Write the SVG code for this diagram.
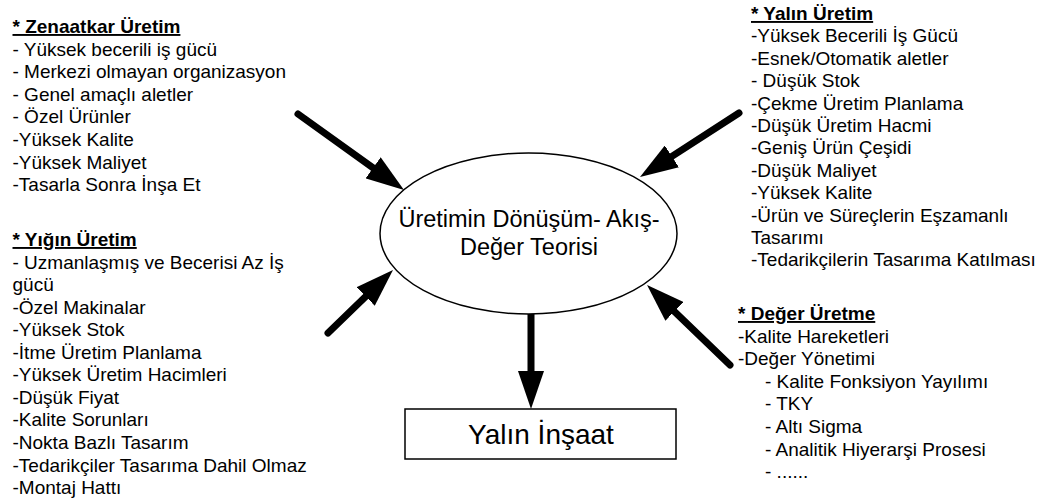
<svg xmlns="http://www.w3.org/2000/svg" width="1047" height="504" viewBox="0 0 1047 504">
  <style>
    text { font-family: "Liberation Sans", Arial, sans-serif; fill: #000; }
    .list { font-size: 19px; }
    .head { font-weight: bold; text-decoration: underline; }
    .shape { fill: #fff; stroke: #000; stroke-width: 1.5; }
    .arrow { stroke: #000; stroke-width: 7; stroke-linecap: round; fill: none; marker-end: url(#head); }
  </style>
  <defs>
    <marker id="head" viewBox="0 -13 38 26" refX="0" refY="0" markerWidth="38" markerHeight="26" markerUnits="userSpaceOnUse" orient="auto">
      <path d="M0,-13 L38,0 L0,13 Z" fill="#000"/>
    </marker>
  </defs>

  <rect width="1047" height="504" fill="#fff"/>

  <!-- connectors: each line stops at the base of its arrowhead -->
  <g id="connectors">
    <line class="arrow" x1="298" y1="114" x2="373.1" y2="167.8"/>
    <line class="arrow" x1="739" y1="113" x2="671.9" y2="156.4"/>
    <line class="arrow" x1="328" y1="333" x2="365.7" y2="296.5"/>
    <line class="arrow" x1="730" y1="365" x2="674.4" y2="311.4"/>
    <line class="arrow" x1="531" y1="314" x2="531" y2="371"/>
  </g>

  <g id="theory">
    <ellipse class="shape" cx="528.5" cy="233.5" rx="148.5" ry="80.5"/>
    <text x="529" y="227" font-size="23.5" text-anchor="middle">Üretimin Dönüşüm- Akış-</text>
    <text x="529" y="255" font-size="23.5" text-anchor="middle">Değer Teorisi</text>
  </g>

  <g id="lean-construction">
    <rect class="shape" x="405" y="409" width="271" height="50"/>
    <text x="541" y="444" font-size="28" text-anchor="middle">Yalın İnşaat</text>
  </g>

  <g id="craft-production">
    <text class="list" x="12.5" y="33">
      <tspan class="head">* Zenaatkar Üretim</tspan>
      <tspan x="12.5" dy="22.6">- Yüksek becerili iş gücü</tspan>
      <tspan x="12.5" dy="22.6">- Merkezi olmayan organizasyon</tspan>
      <tspan x="12.5" dy="22.6">- Genel amaçlı aletler</tspan>
      <tspan x="12.5" dy="22.6">- Özel Ürünler</tspan>
      <tspan x="12.5" dy="22.6">-Yüksek Kalite</tspan>
      <tspan x="12.5" dy="22.6">-Yüksek Maliyet</tspan>
      <tspan x="12.5" dy="22.6">-Tasarla Sonra İnşa Et</tspan>
    </text>
  </g>

  <g id="mass-production">
    <text class="list" x="12.5" y="246">
      <tspan class="head">* Yığın Üretim</tspan>
      <tspan x="12.5" dy="22.55">- Uzmanlaşmış ve Becerisi Az İş</tspan>
      <tspan x="12.5" dy="22.55">gücü</tspan>
      <tspan x="12.5" dy="22.55">-Özel Makinalar</tspan>
      <tspan x="12.5" dy="22.55">-Yüksek Stok</tspan>
      <tspan x="12.5" dy="22.55">-İtme Üretim Planlama</tspan>
      <tspan x="12.5" dy="22.55">-Yüksek Üretim Hacimleri</tspan>
      <tspan x="12.5" dy="22.55">-Düşük Fiyat</tspan>
      <tspan x="12.5" dy="22.55">-Kalite Sorunları</tspan>
      <tspan x="12.5" dy="22.55">-Nokta Bazlı Tasarım</tspan>
      <tspan x="12.5" dy="22.55">-Tedarikçiler Tasarıma Dahil Olmaz</tspan>
      <tspan x="12.5" dy="22.55">-Montaj Hattı</tspan>
    </text>
  </g>

  <g id="lean-production">
    <text class="list" x="751" y="20">
      <tspan class="head">* Yalın Üretim</tspan>
      <tspan x="751" dy="22.4">-Yüksek Becerili İş Gücü</tspan>
      <tspan x="751" dy="22.4">-Esnek/Otomatik aletler</tspan>
      <tspan x="751" dy="22.4">- Düşük Stok</tspan>
      <tspan x="751" dy="22.4">-Çekme Üretim Planlama</tspan>
      <tspan x="751" dy="22.4">-Düşük Üretim Hacmi</tspan>
      <tspan x="751" dy="22.4">-Geniş Ürün Çeşidi</tspan>
      <tspan x="751" dy="22.4">-Düşük Maliyet</tspan>
      <tspan x="751" dy="22.4">-Yüksek Kalite</tspan>
      <tspan x="751" dy="22.4">-Ürün ve Süreçlerin Eşzamanlı</tspan>
      <tspan x="751" dy="22.4">Tasarımı</tspan>
      <tspan x="751" dy="22.4">-Tedarikçilerin Tasarıma Katılması</tspan>
    </text>
  </g>

  <g id="value-generation">
    <text class="list" x="738" y="320">
      <tspan class="head">* Değer Üretme</tspan>
      <tspan x="738" dy="22.6">-Kalite Hareketleri</tspan>
      <tspan x="738" dy="22.6">-Değer Yönetimi</tspan>
      <tspan x="765" dy="22.6">- Kalite Fonksiyon Yayılımı</tspan>
      <tspan x="765" dy="22.6">- TKY</tspan>
      <tspan x="765" dy="22.6">- Altı Sigma</tspan>
      <tspan x="765" dy="22.6">- Analitik Hiyerarşi Prosesi</tspan>
      <tspan x="765" dy="22.6">- ......</tspan>
    </text>
  </g>
</svg>
